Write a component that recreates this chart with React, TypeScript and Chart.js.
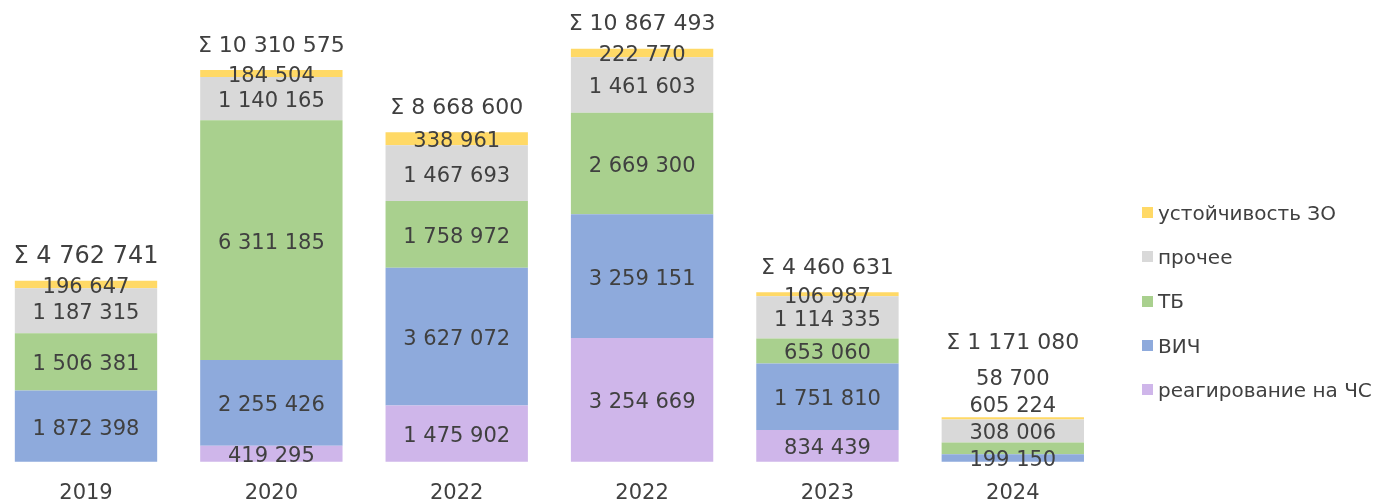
import React, { useEffect, useRef } from 'react';
import { Chart, registerables } from 'chart.js';

Chart.register(...registerables);

// ---- data ----
const categories = ['2019', '2020', '2022', '2022', '2023', '2024'];
const seriesNames = ['реагирование на ЧС', 'ВИЧ', 'ТБ', 'прочее', 'устойчивость ЗО'];
const emergency = [0, 419295, 1475902, 3254669, 834439, 0];
const hiv = [1872398, 2255426, 3627072, 3259151, 1751810, 199150];
const tb = [1506381, 6311185, 1758972, 2669300, 653060, 308006];
const other = [1187315, 1140165, 1467693, 1461603, 1114335, 605224];
const resilience = [196647, 184504, 338961, 222770, 106987, 58700];

// ---- styles ----
const seriesColors = ['#CFB6EA', '#8EAADC', '#A9D08E', '#D9D9D9', '#FFD966'];
const TEXT = '#404040';
const FONT = '"DejaVu Sans", Verdana, sans-serif';

const fmt = (v: number) => String(v).replace(/\B(?=(\d{3})+(?!\d))/g, ' ');

const stackLabels = {
  id: 'stackLabels',
  afterDatasetsDraw(chart: any) {
    const ctx = chart.ctx;
    const n = chart.data.labels.length;
    const shift = 3;
    ctx.save();
    ctx.fillStyle = TEXT;
    ctx.textAlign = 'center';
    ctx.textBaseline = 'middle';
    for (let i = 0; i < n; i++) {
      let prevY = Infinity;
      let topY = 0;
      let barTop = 0;
      let x = 0;
      let sum = 0;
      chart.data.datasets.forEach((ds: any, d: number) => {
        const v = ds.data[i];
        const el = chart.getDatasetMeta(d).data[i];
        if (!v || !el) return;
        sum += v;
        x = el.x;
        const c = (el.y + el.base) / 2;
        let y = c;
        if (prevY - c < 22) y = prevY - 27;
        ctx.font = `21px ${FONT}`;
        ctx.fillText(fmt(v), el.x, y + shift);
        prevY = y;
        topY = y;
        barTop = el.y;
      });
      const sumY = topY < barTop ? topY - 37 : barTop - 27;
      ctx.font = `${i === 0 ? 24 : 22}px ${FONT}`;
      ctx.fillText('Σ ' + fmt(sum), x, sumY + shift);
    }
    ctx.restore();
  },
};

export default function App() {
  const ref = useRef<HTMLCanvasElement | null>(null);

  useEffect(() => {
    if (!ref.current) return;
    const series = [emergency, hiv, tb, other, resilience];
    const chart = new Chart(ref.current, {
      type: 'bar',
      data: {
        labels: categories,
        datasets: series.map((data, k) => ({
          label: seriesNames[k],
          data,
          backgroundColor: seriesColors[k],
          borderWidth: 0,
          categoryPercentage: 1,
          barPercentage: 0.768,
          clip: false as any,
        })),
      },
      options: {
        responsive: false,
        animation: false,
        layout: { padding: { left: 86, right: 367.2, top: 0, bottom: 0 } },
        plugins: {
          legend: { display: false },
          tooltip: { enabled: false },
        },
        scales: {
          x: {
            stacked: true,
            offset: false,
            grid: { display: false, drawTicks: false },
            border: { display: false },
            ticks: {
              color: TEXT,
              font: { family: FONT, size: 21 },
              padding: 19.5,
              maxRotation: 0,
              autoSkip: false,
            },
            afterFit(scale: any) {
              scale.height = 41.3;
            },
          },
          y: {
            stacked: true,
            display: false,
            min: 0,
            max: 12150000,
          },
        },
      },
      plugins: [stackLabels],
    });
    return () => chart.destroy();
  }, []);

  const legendOrder = [4, 3, 2, 1, 0];

  return (
    <div style={{ position: 'absolute', left: 0, top: 0, width: 1380, height: 503, background: '#fff', overflow: 'hidden' }}>
      <canvas ref={ref} width={1380} height={503} style={{ position: 'absolute', left: 0, top: 0 }} />
      <div style={{ position: 'absolute', left: 1142, top: 190.5 }}>
        {legendOrder.map((k) => (
          <div key={k} style={{ display: 'flex', alignItems: 'center', height: 44.3 }}>
            <span style={{ display: 'inline-block', width: 11, height: 11, background: seriesColors[k], marginRight: 5 }} />
            <span style={{ fontFamily: FONT, fontSize: 20, color: TEXT, whiteSpace: 'nowrap', lineHeight: 1 }}>
              {seriesNames[k]}
            </span>
          </div>
        ))}
      </div>
    </div>
  );
}
